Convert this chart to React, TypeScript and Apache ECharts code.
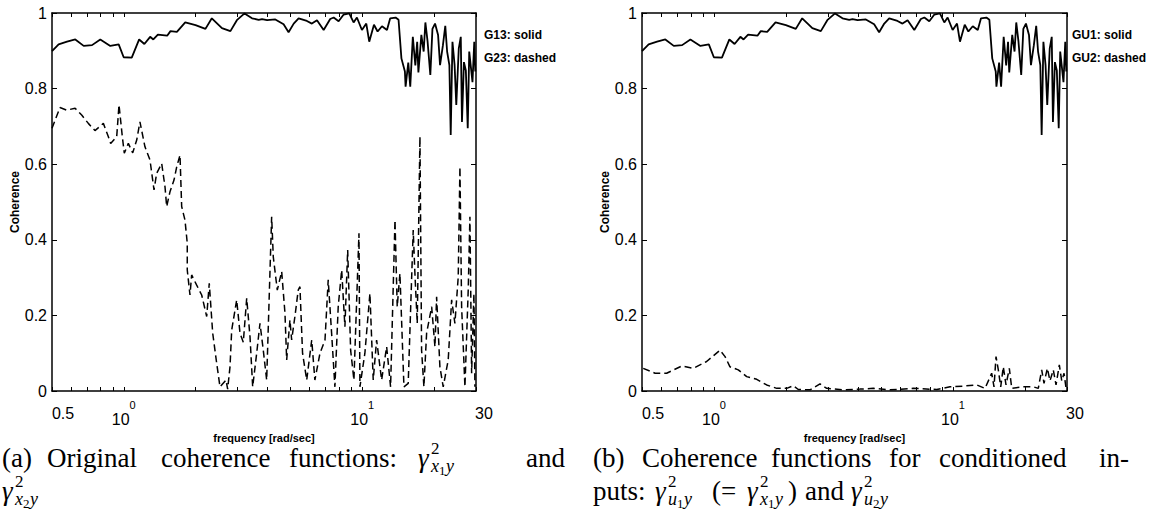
import React, { useEffect, useRef } from 'react';
import * as echarts from 'echarts';

// ---------- data ----------
// solid line: gamma^2_{x1y} (= gamma^2_{u1y}), shown in both panels
const freqSolid = [0.50, 0.533, 0.578, 0.626, 0.679, 0.736, 0.797, 0.878, 0.952, 0.999, 1.08, 1.16, 1.22, 1.29, 1.33, 1.39, 1.52, 1.57, 1.67, 1.81, 2.00, 2.20, 2.34, 2.58, 2.80, 2.98, 3.21, 3.45, 3.68, 3.80, 3.99, 4.32, 4.68, 4.91, 5.16, 5.41, 5.86, 6.15, 6.46, 6.89, 7.34, 7.59, 7.96, 8.36, 8.82, 9.20, 9.50, 9.97, 10.4, 10.7, 11.2, 11.6, 12.1, 12.7, 13.1, 13.8, 14.2, 14.6, 15.1, 15.2, 15.6, 15.9, 16.3, 16.7, 17.0, 17.2, 17.7, 18.1, 18.4, 18.8, 19.3, 19.7, 20.2, 20.8, 21.2, 21.8, 22.3, 22.7, 23.2, 23.5, 23.9, 24.4, 24.8, 25.4, 25.9, 26.2, 26.7, 27.2, 27.7, 28.1, 28.6, 29.0, 29.5, 29.8];
const cohSolid = [0.899, 0.917, 0.924, 0.930, 0.913, 0.915, 0.930, 0.913, 0.917, 0.883, 0.882, 0.930, 0.918, 0.937, 0.930, 0.943, 0.940, 0.952, 0.950, 0.975, 0.968, 0.958, 0.986, 0.960, 0.952, 0.981, 0.999, 0.986, 0.982, 0.984, 0.981, 0.983, 0.970, 0.949, 0.972, 0.986, 0.979, 0.972, 0.981, 0.955, 0.984, 0.988, 0.978, 0.996, 0.999, 0.975, 0.988, 0.955, 0.972, 0.924, 0.969, 0.951, 0.965, 0.955, 0.986, 0.988, 0.982, 0.880, 0.845, 0.805, 0.869, 0.805, 0.937, 0.861, 0.924, 0.843, 0.942, 0.898, 0.975, 0.924, 0.836, 0.958, 0.972, 0.942, 0.862, 0.915, 0.966, 0.898, 0.862, 0.677, 0.924, 0.862, 0.757, 0.906, 0.937, 0.712, 0.870, 0.848, 0.695, 0.898, 0.853, 0.817, 0.924, 0.845];

// dashed line, panel (a): gamma^2_{x2y}
const freqG23 = [0.50, 0.54, 0.576, 0.625, 0.666, 0.710, 0.757, 0.821, 0.861, 0.881, 0.934, 0.955, 0.986, 1.005, 1.045, 1.090, 1.133, 1.169, 1.227, 1.288, 1.339, 1.374, 1.442, 1.489, 1.513, 1.562, 1.624, 1.667, 1.721, 1.749, 1.806, 1.846, 1.846, 1.895, 1.926, 2.022, 2.122, 2.227, 2.283, 2.360, 2.453, 2.532, 2.683, 2.727, 2.789, 2.835, 2.975, 3.072, 3.171, 3.277, 3.383, 3.472, 3.609, 3.725, 3.846, 3.974, 4.170, 4.236, 4.403, 4.594, 4.742, 4.821, 4.976, 5.058, 5.22, 5.39, 5.48, 5.62, 5.85, 6.14, 6.33, 6.65, 6.98, 7.20, 7.44, 7.68, 7.93, 8.20, 8.46, 8.69, 8.94, 9.23, 9.69, 9.78, 10.26, 10.77, 11.12, 11.49, 12.06, 12.66, 13.15, 13.72, 14.02, 14.39, 14.96, 15.59, 16.36, 16.63, 17.01, 17.46, 17.74, 18.14, 18.62, 19.55, 20.18, 20.51, 21.17, 21.86, 22.94, 23.71, 24.47, 25.27, 25.69, 26.11, 26.96, 27.83, 28.29, 28.76, 29.40, 29.69];
const cohG23 = [0.695, 0.750, 0.743, 0.748, 0.730, 0.708, 0.689, 0.708, 0.673, 0.655, 0.673, 0.757, 0.673, 0.629, 0.655, 0.630, 0.664, 0.712, 0.646, 0.611, 0.532, 0.576, 0.602, 0.540, 0.488, 0.527, 0.558, 0.593, 0.624, 0.488, 0.452, 0.391, 0.320, 0.254, 0.307, 0.280, 0.254, 0.197, 0.285, 0.153, 0.073, 0.011, 0.029, 0.005, 0.064, 0.161, 0.241, 0.153, 0.129, 0.245, 0.144, 0.011, 0.100, 0.179, 0.108, 0.029, 0.461, 0.355, 0.267, 0.316, 0.206, 0.082, 0.188, 0.135, 0.197, 0.267, 0.276, 0.100, 0.029, 0.135, 0.029, 0.100, 0.135, 0.294, 0.153, 0.011, 0.223, 0.320, 0.170, 0.373, 0.108, 0.029, 0.417, 0.011, 0.100, 0.258, 0.029, 0.135, 0.029, 0.117, 0.011, 0.452, 0.223, 0.311, 0.011, 0.020, 0.426, 0.312, 0.179, 0.673, 0.108, 0.011, 0.153, 0.223, 0.117, 0.249, 0.064, 0.011, 0.082, 0.241, 0.179, 0.302, 0.593, 0.223, 0.011, 0.267, 0.461, 0.047, 0.258, 0.011];

// dashed line, panel (b): gamma^2_{u2y}
const freqGU2 = [0.506, 0.567, 0.634, 0.733, 0.820, 0.932, 1.060, 1.113, 1.167, 1.264, 1.371, 1.510, 1.662, 1.831, 2.015, 2.149, 2.254, 2.523, 2.778, 2.963, 3.479, 4.085, 4.643, 5.45, 6.82, 8.55, 9.72, 11.05, 12.57, 13.62, 14.52, 14.85, 15.14, 15.48, 15.84, 16.24, 16.67, 17.21, 17.62, 19.69, 21.68, 22.75, 23.51, 24.04, 24.82, 25.47, 26.29, 26.99, 27.86, 28.52, 29.16, 29.73];
const cohGU2 = [0.060, 0.047, 0.047, 0.066, 0.060, 0.078, 0.108, 0.091, 0.064, 0.056, 0.038, 0.031, 0.016, 0.007, 0.007, 0.014, 0.004, 0.003, 0.019, 0.007, 0.003, 0.005, 0.007, 0.003, 0.007, 0.004, 0.011, 0.013, 0.016, 0.007, 0.047, 0.011, 0.091, 0.056, 0.011, 0.064, 0.016, 0.060, 0.007, 0.011, 0.011, 0.007, 0.056, 0.020, 0.060, 0.027, 0.056, 0.016, 0.069, 0.027, 0.047, 0.007];

// axis ticks / labels
const xLabelValues = [0.5, 1, 10, 30];
const xTickValues = [0.5, 0.6, 0.7, 0.8, 0.9, 1, 2, 3, 4, 5, 6, 7, 8, 9, 10, 20, 30];
const legendA = ['G13: solid', 'G23: dashed'];
const legendB = ['GU1: solid', 'GU2: dashed'];

// ---------- styling / layout ----------
const SANS = '"Liberation Sans", Arial, Helvetica, sans-serif';
const SERIF = '"Liberation Serif", "Times New Roman", serif';
const GRIDS = [
  { left: 52, top: 13, width: 424, height: 378 },
  { left: 642, top: 13, width: 425, height: 378 },
];

const pairs = (f: number[], v: number[]) => f.map((x, i) => [x, v[i]]);

const near = (a: number, b: number) => Math.abs(a - b) < 1e-3 * Math.max(1, b);

const xFormatter = (v: number) => {
  if (near(v, 1)) return '{n|10}{e|0}';
  if (near(v, 10)) return '{n|10}{e|1}';
  if (near(v, 0.5)) return '{l|0.5}';
  if (near(v, 30)) return '{r|30}';
  return '';
};

const xRich = {
  n: { fontFamily: SANS, fontSize: 16, lineHeight: 28, verticalAlign: 'bottom', color: '#000' },
  e: { fontFamily: SANS, fontSize: 11, lineHeight: 28, verticalAlign: 'top', color: '#000' },
  l: { fontFamily: SANS, fontSize: 16, lineHeight: 28, verticalAlign: 'middle', padding: [0, 0, 0, 22], color: '#000' },
  r: { fontFamily: SANS, fontSize: 16, lineHeight: 28, verticalAlign: 'middle', padding: [0, 0, 0, 16], color: '#000' },
};

function makeXAxes(gi: number) {
  const line = { show: true, onZero: false, lineStyle: { color: '#000', width: 1.5 } };
  const tick = { show: true, inside: true, length: 4, customValues: xTickValues, lineStyle: { color: '#000', width: 1 } };
  return [
    {
      type: 'log', logBase: 10, gridIndex: gi, position: 'bottom', min: 0.5, max: 30,
      name: 'frequency [rad/sec]', nameLocation: 'middle', nameGap: 36,
      nameTextStyle: { fontFamily: SANS, fontSize: 11, fontWeight: 'bold', color: '#000', lineHeight: 12 },
      axisLine: line, axisTick: tick,
      axisLabel: { show: true, customValues: xLabelValues, formatter: xFormatter, rich: xRich, margin: 8, hideOverlap: false },
      splitLine: { show: false }, minorTick: { show: false },
    },
    {
      type: 'log', logBase: 10, gridIndex: gi, position: 'top', min: 0.5, max: 30,
      axisLine: line, axisTick: tick, axisLabel: { show: false },
      splitLine: { show: false }, minorTick: { show: false },
    },
  ];
}

function makeYAxes(gi: number) {
  const line = { show: true, onZero: false, lineStyle: { color: '#000', width: 1.5 } };
  const tick = { show: true, inside: true, length: 5, lineStyle: { color: '#000', width: 1 } };
  return [
    {
      type: 'value', gridIndex: gi, position: 'left', min: 0, max: 1, interval: 0.2,
      name: 'Coherence', nameLocation: 'middle', nameGap: 28, nameRotate: 90,
      nameTextStyle: { fontFamily: SANS, fontSize: 12, fontWeight: 'bold', color: '#000' },
      axisLine: line, axisTick: tick,
      axisLabel: {
        margin: 5, fontFamily: SANS, fontSize: 16, color: '#000',
        formatter: (v: number) => (v === 0 ? '0' : v === 1 ? '1' : v.toFixed(1)),
      },
      splitLine: { show: false },
    },
    {
      type: 'value', gridIndex: gi, position: 'right', min: 0, max: 1, interval: 0.2,
      axisLine: line, axisTick: tick, axisLabel: { show: false }, splitLine: { show: false },
    },
  ];
}

const solidStyle = { color: '#000', width: 1.8 };
const dashStyle = { color: '#000', width: 1.5, type: [7, 4] };

function lineSeries(xi: number, yi: number, data: number[][], style: any) {
  return { type: 'line', xAxisIndex: xi, yAxisIndex: yi, data, symbol: 'none', showSymbol: false, lineStyle: style, clip: true, z: 3 };
}

// caption layout
const CAP_SIZE = 27;
const capText = (text: string, x: number, y: number) => ({
  type: 'text', x, y,
  style: { text, fontFamily: SERIF, fontSize: CAP_SIZE, lineHeight: 24, fill: '#000', verticalAlign: 'middle' },
});

const mathText = (text: string, x: number, y: number, size: number, italic: boolean, lh: number) => ({
  type: 'text', x, y,
  style: { text, fontFamily: SERIF, fontStyle: italic ? 'italic' : 'normal', fontSize: size, lineHeight: lh, fill: '#000', verticalAlign: 'middle' },
});

// gamma^2 with subscript "s1 idx s2" (e.g. x_1 y)
function gammaSym(x: number, y: number, s1: string, idx: string, s2: string) {
  const w1 = s1 === 'u' ? 9 : 8;
  return [
    mathText('γ', x, y, 27, true, 22),
    mathText('2', x + 13, y - 10, 17, false, 12),
    mathText(s1, x + 13, y + 8, 18, true, 13),
    mathText(idx, x + 13 + w1, y + 12, 13, false, 10),
    mathText(s2, x + 13 + w1 + 7, y + 8, 18, true, 13),
  ];
}

function legendTexts(x: number, items: string[]) {
  return items.map((t, i) => ({
    type: 'text', x, y: 35 + i * 23,
    style: { text: t, fontFamily: SANS, fontSize: 12, fontWeight: 'bold', fill: '#000', verticalAlign: 'middle' },
  }));
}

const L1 = 458;
const L2 = 491;

export default function App() {
  const ref = useRef<HTMLDivElement>(null);
  useEffect(() => {
    document.body.style.margin = '0';
    if (!ref.current) return;
    const chart = echarts.init(ref.current, undefined, { renderer: 'svg' });
    const xAxis = [...makeXAxes(0), ...makeXAxes(1)];
    const yAxis = [...makeYAxes(0), ...makeYAxes(1)];
    const graphic: any[] = [
      ...legendTexts(484, legendA),
      ...legendTexts(1072, legendB),
      // caption (a)
      capText('(a)', 2, L1),
      capText('Original', 47, L1),
      capText('coherence', 161, L1),
      capText('functions:', 289, L1),
      ...gammaSym(418, L1, 'x', '1', 'y'),
      capText('and', 526, L1),
      ...gammaSym(2, L2, 'x', '2', 'y'),
      // caption (b)
      capText('(b)', 593, L1),
      capText('Coherence', 642, L1),
      capText('functions', 771, L1),
      capText('for', 889, L1),
      capText('conditioned', 939, L1),
      capText('in-', 1099, L1),
      capText('puts:', 593, L2),
      ...gammaSym(655, L2, 'u', '1', 'y'),
      capText('(=', 712, L2),
      ...gammaSym(747, L2, 'x', '1', 'y'),
      capText(')', 788, L2),
      capText('and', 805, L2),
      ...gammaSym(851, L2, 'u', '2', 'y'),
    ];
    chart.setOption({
      animation: false,
      backgroundColor: '#fff',
      grid: GRIDS.map((g) => ({ ...g, containLabel: false })),
      xAxis,
      yAxis,
      series: [
        lineSeries(0, 0, pairs(freqSolid, cohSolid), solidStyle),
        lineSeries(0, 0, pairs(freqG23, cohG23), dashStyle),
        lineSeries(2, 2, pairs(freqSolid, cohSolid), solidStyle),
        lineSeries(2, 2, pairs(freqGU2, cohGU2), dashStyle),
      ],
      graphic,
    });
    return () => chart.dispose();
  }, []);
  return <div ref={ref} style={{ width: 1166, height: 510 }} />;
}
